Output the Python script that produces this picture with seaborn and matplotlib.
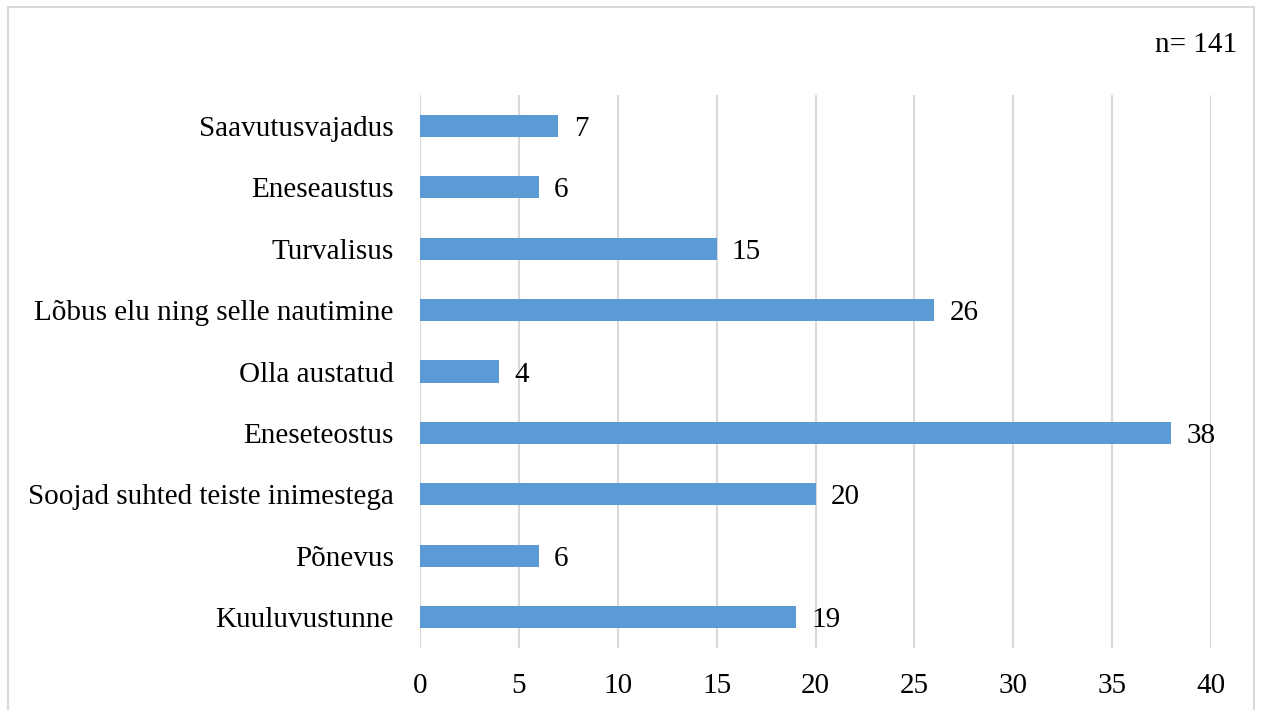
import matplotlib
matplotlib.use("Agg")
import matplotlib.pyplot as plt
import seaborn as sns
import pandas as pd
from matplotlib.patches import Rectangle

categories = [
    "Saavutusvajadus",
    "Eneseaustus",
    "Turvalisus",
    "Lõbus elu ning selle nautimine",
    "Olla austatud",
    "Eneseteostus",
    "Soojad suhted teiste inimestega",
    "Põnevus",
    "Kuuluvustunne",
]
counts = [7, 6, 15, 26, 4, 38, 20, 6, 19]
x_ticks = [0, 5, 10, 15, 20, 25, 30, 35, 40]
sample_note = "n= 141"

df = pd.DataFrame({"category": categories, "count": counts})

sns.set_theme(style="white")
plt.rcParams["font.family"] = ["Liberation Serif", "DejaVu Serif"]
FS = 21

fig = plt.figure(figsize=(12.61, 7.10), dpi=100)
ax = fig.add_axes([420 / 1261, 1 - 648 / 710, (1211 - 420) / 1261, (648 - 95) / 710])

sns.barplot(data=df, x="count", y="category", orient="h", color="#5B9BD5",
            saturation=1, width=0.36, linewidth=0, ax=ax, zorder=3)

ax.set_xlim(0, 40)
ax.set_ylim(len(categories) - 0.5, -0.5)
ax.set_xticks(x_ticks)
ax.set_xticklabels([str(t) for t in x_ticks])
ax.xaxis.grid(True, color="#D9D9D9", linewidth=1.5, zorder=0)
ax.yaxis.grid(False)
ax.set_axisbelow(True)
for s in ax.spines.values():
    s.set_visible(False)
ax.tick_params(axis="both", length=0, labelsize=FS, colors="black")
ax.tick_params(axis="x", pad=18)
ax.tick_params(axis="y", pad=19)
ax.set_xlabel("")
ax.set_ylabel("")

# value labels at the end of each bar
for patch, val in zip(ax.patches, counts):
    yc = patch.get_y() + patch.get_height() / 2
    ax.annotate(str(val), xy=(patch.get_width(), yc), xytext=(11, 0),
                textcoords="offset points", ha="left", va="center_baseline",
                fontsize=FS, color="black")

fig.text(1237 / 1261, 1 - 45 / 710, sample_note, ha="right", va="center",
         fontsize=FS, color="black")

# outer frame around the chart area
fig.patches.append(Rectangle((8 / 1261, -0.05), (1254 - 8) / 1261, 1.05 - 7 / 710,
                             transform=fig.transFigure, fill=False,
                             edgecolor="#D9D9D9", linewidth=1.5))

fig.savefig("out.png", dpi=100)
